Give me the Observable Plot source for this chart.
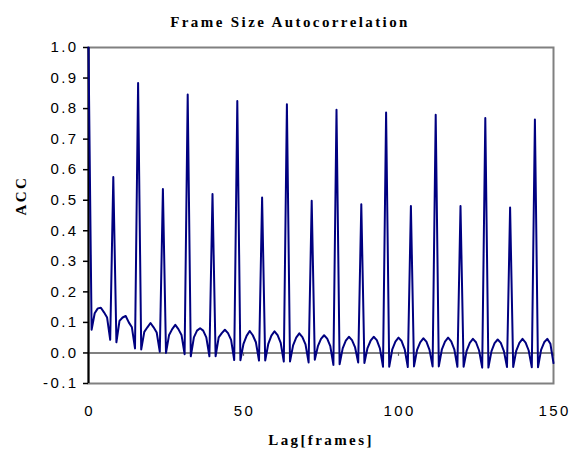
<!DOCTYPE html>
<html><head><meta charset="utf-8">
<script src="https://cdn.jsdelivr.net/npm/d3@7"></script>
<script src="https://cdn.jsdelivr.net/npm/@observablehq/plot@0.6"></script>
<style>
body{margin:0;background:#fff}
#chart svg{display:block}
#chart g[aria-label="y-axis tick label"] text,
#chart g[aria-label="x-axis tick label"] text{letter-spacing:2.4px}
</style>
</head><body><div id="chart"></div>
<script>
const title = "Frame Size Autocorrelation";
const xLabel = "Lag[frames]";
const yLabel = "ACC";
const xTicks = [0, 50, 100, 150];
const yTicks = [-0.1, 0.0, 0.1, 0.2, 0.3, 0.4, 0.5, 0.6, 0.7, 0.8, 0.9, 1.0];
// autocorrelation per lag 0..150
const acc = [
  1.000,
  0.076, 0.130, 0.146, 0.148, 0.133, 0.116, 0.043,
  0.576,
  0.035, 0.105, 0.116, 0.121, 0.100, 0.084, 0.015,
  0.884,
  0.011, 0.069, 0.084, 0.098, 0.084, 0.067, 0.004,
  0.537,
  0.000, 0.059, 0.078, 0.092, 0.078, 0.059, -0.004,
  0.846,
  -0.011, 0.051, 0.073, 0.081, 0.073, 0.051, -0.011,
  0.520,
  -0.011, 0.051, 0.065, 0.076, 0.065, 0.043, -0.023,
  0.825,
  -0.024, 0.030, 0.056, 0.072, 0.058, 0.035, -0.025,
  0.509,
  -0.025, 0.030, 0.057, 0.071, 0.058, 0.033, -0.028,
  0.814,
  -0.028, 0.025, 0.050, 0.064, 0.052, 0.028, -0.031,
  0.498,
  -0.022, 0.022, 0.046, 0.058, 0.047, 0.022, -0.039,
  0.796,
  -0.037, 0.015, 0.040, 0.053, 0.042, 0.018, -0.031,
  0.487,
  -0.033, 0.016, 0.040, 0.053, 0.042, 0.015, -0.045,
  0.787,
  -0.045, 0.012, 0.037, 0.050, 0.039, 0.012, -0.046,
  0.481,
  -0.044, 0.010, 0.035, 0.048, 0.037, 0.010, -0.044,
  0.780,
  -0.044, 0.012, 0.037, 0.050, 0.038, 0.012, -0.045,
  0.481,
  -0.045, 0.008, 0.033, 0.046, 0.035, 0.008, -0.048,
  0.769,
  -0.048, 0.006, 0.032, 0.044, 0.033, 0.006, -0.046,
  0.476,
  -0.046, 0.008, 0.033, 0.046, 0.034, 0.008, -0.047,
  0.764,
  -0.047, 0.010, 0.035, 0.046, 0.030, -0.033
];
const data = acc.map((v, i) => ({lag: i, acc: v}));

const serif = "'Liberation Serif','Times New Roman',serif";
const sans = "'Liberation Sans',Arial,sans-serif";
const labelStyle = {fontFamily: serif, fontWeight: "bold", fontSize: 15, fill: "#000", lineAnchor: "middle"};

const chart = Plot.plot({
  width: 570, height: 453,
  marginLeft: 88, marginRight: 17, marginTop: 47, marginBottom: 70,
  x: {domain: [0, 150]},
  y: {domain: [-0.1, 1.0]},
  style: {fontFamily: sans, background: "#fff", color: "#000"},
  marks: [
    Plot.frame({stroke: "#808080", strokeWidth: 2}),
    Plot.ruleY([0], {stroke: "#808080", strokeWidth: 2}),
    Plot.ruleX(xTicks, {y1: 0, y2: -0.011, stroke: "#606060", strokeWidth: 1.2}),
    Plot.axisY({ticks: yTicks, tickFormat: d => d.toFixed(1), tickSize: 5, tickPadding: 5, fontSize: 15, label: null, stroke: "#000", strokeWidth: 1.5}),
    Plot.axisX({ticks: xTicks, tickSize: 0, tickPadding: 22, fontSize: 15, label: null, dx: 1}),
    Plot.ruleX([0], {stroke: "#000", strokeWidth: 2}),
    Plot.line(data, {x: "lag", y: "acc", stroke: "#000080", strokeWidth: 2}),
    Plot.text([title], {...labelStyle, frameAnchor: "top", dx: -31, dy: -25, style: "letter-spacing:2.4px"}),
    Plot.text([yLabel], {...labelStyle, frameAnchor: "left", dx: -67, rotate: -90}),
    Plot.text([xLabel], {...labelStyle, frameAnchor: "bottom", dy: 57})
  ]
});
document.getElementById("chart").appendChild(chart);
// letter spacing for the axis titles to match the reference rendering
chart.querySelectorAll("g[aria-label='text'] text").forEach(t => t.setAttribute("letter-spacing", "2.4"));
</script>
</body></html>
